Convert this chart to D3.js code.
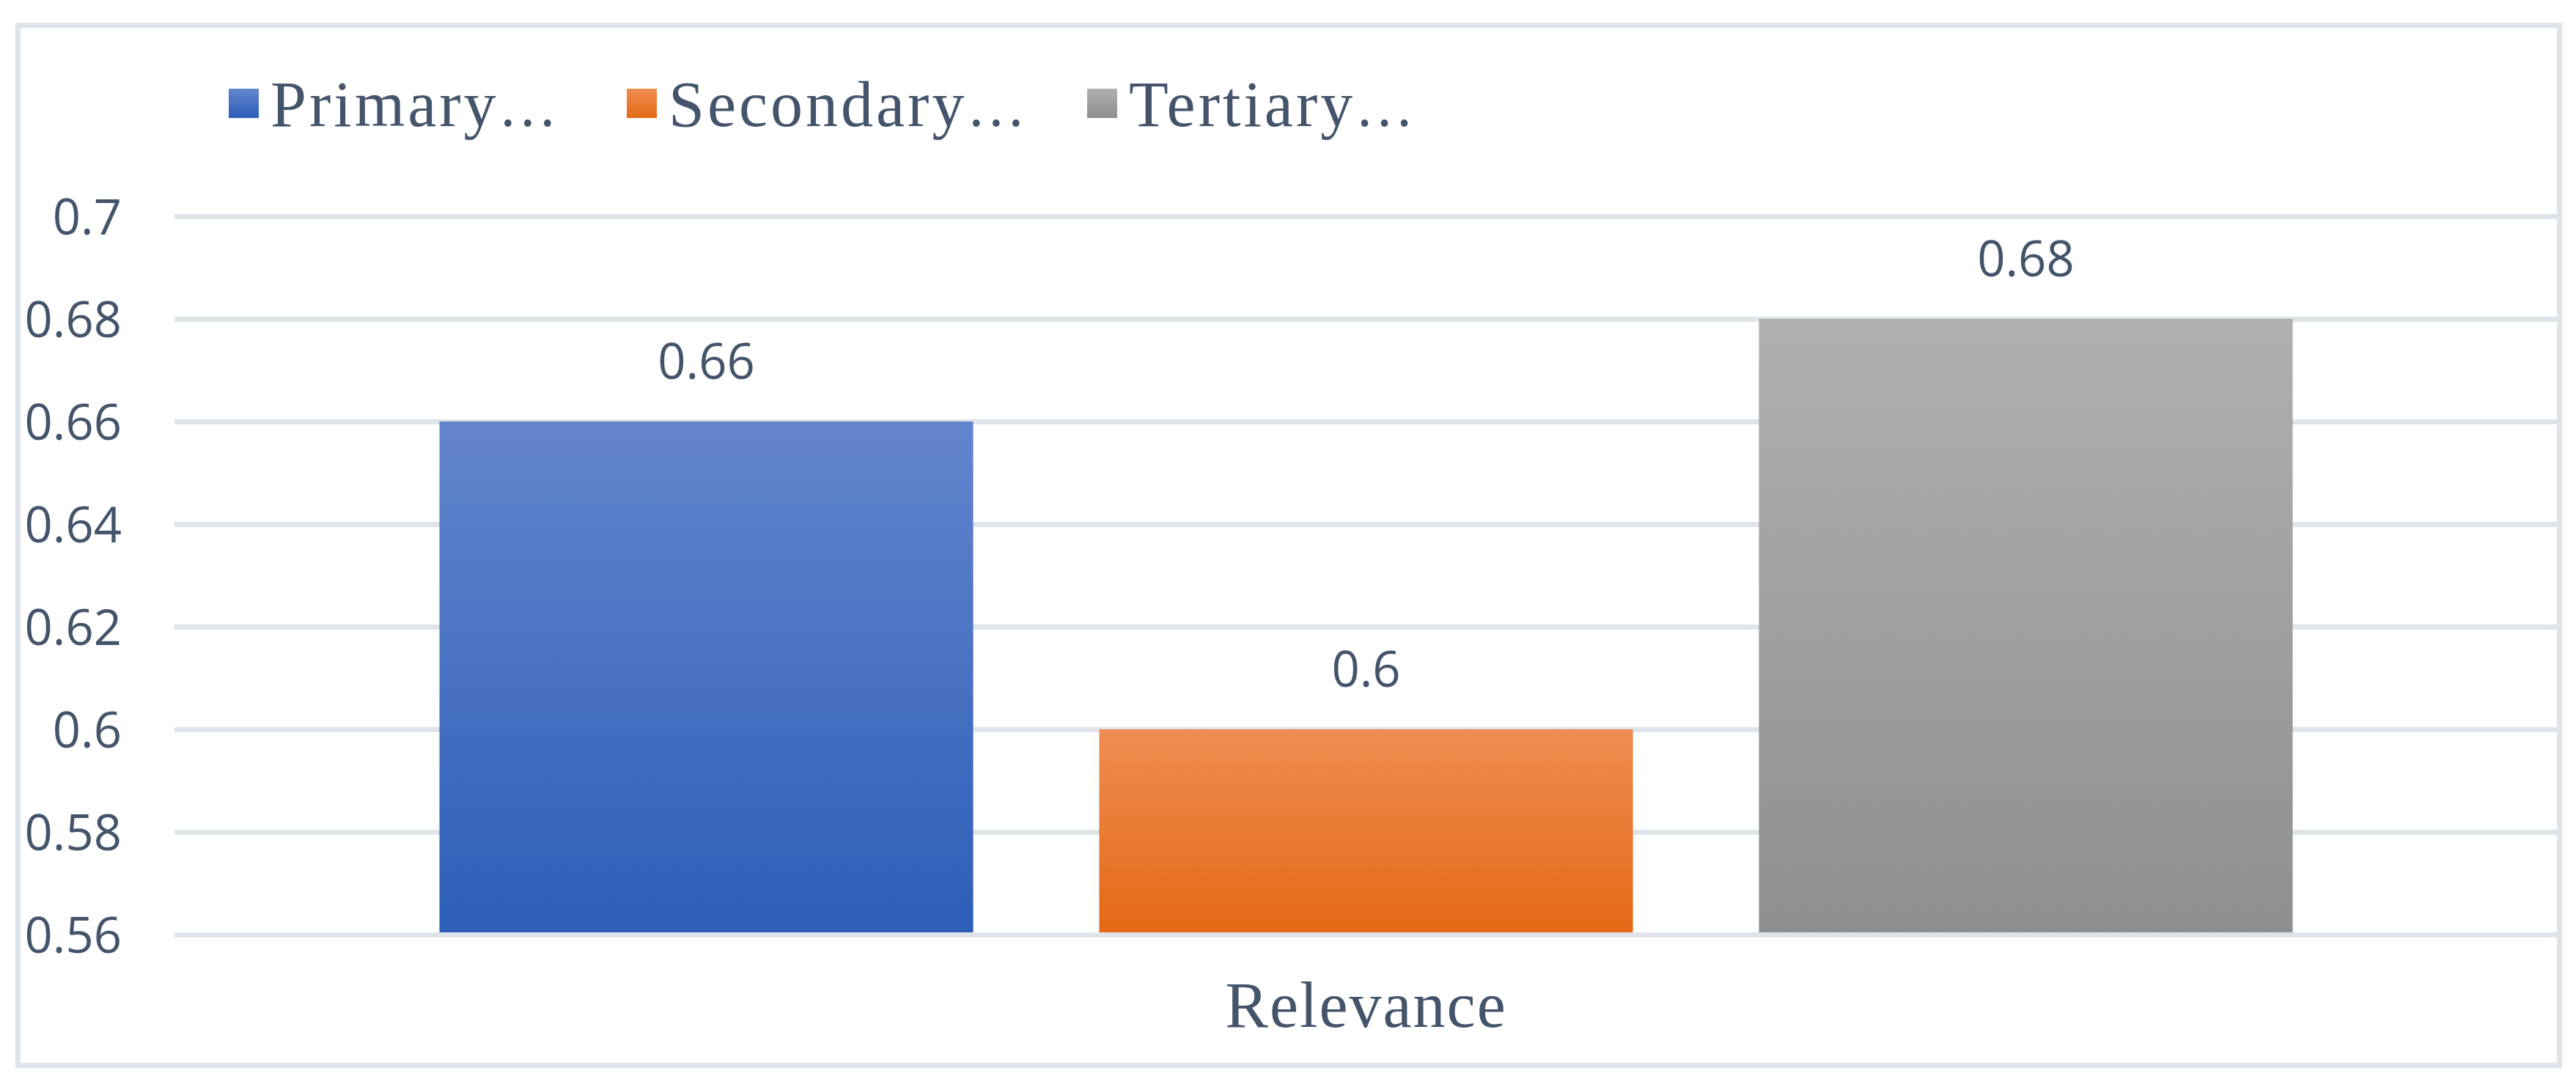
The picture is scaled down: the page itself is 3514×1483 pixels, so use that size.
<!DOCTYPE html>
<html>
<head>
<meta charset="utf-8">
<script src="https://cdn.jsdelivr.net/npm/d3@7"></script>
<style>
  html, body { margin: 0; padding: 0; background: #ffffff; }
  svg { display: block; }
</style>
</head>
<body>
<script>
// ---- data ----
const categories = ["Relevance"];
const seriesNames = ["Primary…", "Secondary…", "Tertiary…"];
const seriesValues = [0.66, 0.60, 0.68];
const yTicks = [0.56, 0.58, 0.6, 0.62, 0.64, 0.66, 0.68, 0.7];
const yDomain = [0.56, 0.7];
const gradTop = ["#6385cc", "#f08c52", "#b0b0b0"];
const gradBottom = ["#2c5eb8", "#e46915", "#8f8f8f"];

// ---- layout ----
const W = 3514, H = 1483;
const plot = { left: 238, right: 3489, top: 295, bottom: 1275 };
const textColor = "#44546a";
const gridColor = "#dfe3ea";

const svg = d3.select("body").append("svg")
  .attr("width", W).attr("height", H);

svg.append("rect").attr("width", W).attr("height", H).attr("fill", "#ffffff");

// gradients
const defs = svg.append("defs");
seriesNames.forEach((s, i) => {
  const g = defs.append("linearGradient")
    .attr("id", "grad" + i)
    .attr("x1", 0).attr("y1", 0).attr("x2", 0).attr("y2", 1);
  g.append("stop").attr("offset", "0%").attr("stop-color", gradTop[i]);
  g.append("stop").attr("offset", "100%").attr("stop-color", gradBottom[i]);
});

// chart border
svg.append("rect")
  .attr("x", 24.5).attr("y", 34.5)
  .attr("width", 3467).attr("height", 1419)
  .attr("fill", "none")
  .attr("stroke", gridColor)
  .attr("stroke-width", 7);

// scales
const y = d3.scaleLinear().domain(yDomain).range([plot.bottom, plot.top]);
const x0 = d3.scaleBand().domain(categories).range([plot.left, plot.right]).padding(0);
const x1 = d3.scaleBand().domain(seriesNames).range([0, x0.bandwidth()])
  .paddingInner(0.191).paddingOuter(0.4017);

// gridlines + y labels via axis
const yAxis = d3.axisLeft(y)
  .tickValues(yTicks)
  .tickSize(-(plot.right - plot.left))
  .tickPadding(72)
  .tickFormat(d => d3.format("")(+d.toFixed(2)));

const gAxis = svg.append("g")
  .attr("transform", `translate(${plot.left},0)`)
  .call(yAxis);
gAxis.select(".domain").remove();
gAxis.selectAll(".tick line")
  .attr("stroke", gridColor)
  .attr("stroke-width", 7);
gAxis.selectAll(".tick text")
  .attr("fill", textColor)
  .attr("font-family", "'Open Sans', 'Noto Sans', sans-serif")
  .attr("font-size", 67)
  .attr("dy", "0.36em");

// bars
const gBars = svg.append("g");
categories.forEach(cat => {
  const data = seriesNames.map((s, i) => ({ s, i, v: seriesValues[i] }));
  const g = gBars.append("g").attr("transform", `translate(${x0(cat)},0)`);
  g.selectAll("rect")
    .data(data)
    .join("rect")
    .attr("x", d => x1(d.s))
    .attr("y", d => y(d.v))
    .attr("width", x1.bandwidth())
    .attr("height", d => y(yDomain[0]) - y(d.v) - 3)
    .attr("fill", d => `url(#grad${d.i})`);
  g.selectAll("text")
    .data(data)
    .join("text")
    .attr("x", d => x1(d.s) + x1.bandwidth() / 2)
    .attr("y", d => y(d.v) - 58)
    .attr("text-anchor", "middle")
    .attr("fill", textColor)
    .attr("font-family", "'Open Sans', 'Noto Sans', sans-serif")
    .attr("font-size", 67)
    .text(d => d3.format("")(d.v));
});

// category label
svg.selectAll("text.cat")
  .data(categories)
  .join("text")
  .attr("class", "cat")
  .attr("x", d => x0(d) + x0.bandwidth() / 2)
  .attr("y", 1401)
  .attr("text-anchor", "middle")
  .attr("fill", textColor)
  .attr("font-family", "'Liberation Serif', serif")
  .attr("font-size", 88)
  .attr("letter-spacing", 2)
  .text(d => d);

// legend
const legendX = [312, 855, 1483];
const legend = svg.append("g");
seriesNames.forEach((s, i) => {
  legend.append("rect")
    .attr("x", legendX[i]).attr("y", 121)
    .attr("width", 41).attr("height", 40)
    .attr("fill", `url(#grad${i})`);
  const t = legend.append("text")
    .attr("x", legendX[i] + 57)
    .attr("y", 172)
    .attr("fill", textColor)
    .attr("font-family", "'Liberation Serif', serif")
    .attr("font-size", 88)
    .attr("letter-spacing", 4);
  const base = s.replace("…", "");
  t.append("tspan").text(base);
  t.append("tspan")
    .attr("font-family", "'Noto Sans CJK SC', sans-serif")
    .attr("font-size", 72)
    .attr("letter-spacing", 0)
    .text("…");
});
</script>
</body>
</html>
